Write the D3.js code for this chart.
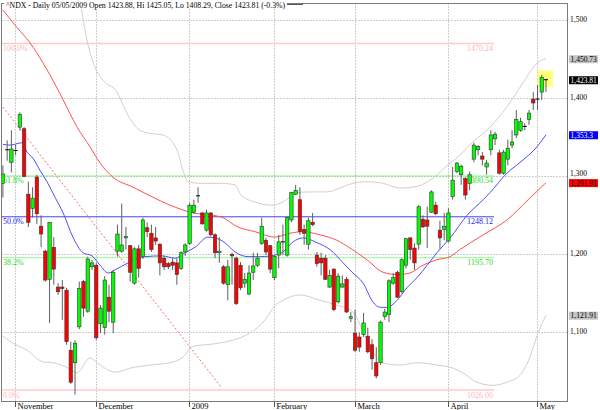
<!DOCTYPE html>
<html><head><meta charset="utf-8">
<script src="https://cdn.jsdelivr.net/npm/d3@7"></script>
<style>html,body{margin:0;padding:0;background:#fff}svg{display:block}text{font-family:"Liberation Serif","DejaVu Serif",serif}</style>
</head><body><svg id="c" width="600" height="410"></svg>
<script>
// ---------- DATA ----------
const title = "^NDX - Daily 05/05/2009 Open 1423.88, Hi 1425.05, Lo 1408.29, Close 1423.81 (-0.3%)";
const dates = [
 "2008-10-29","2008-10-30","2008-10-31",
 "2008-11-03","2008-11-04","2008-11-05","2008-11-06","2008-11-07","2008-11-10","2008-11-11","2008-11-12","2008-11-13","2008-11-14","2008-11-17","2008-11-18","2008-11-19","2008-11-20","2008-11-21","2008-11-24","2008-11-25","2008-11-26","2008-11-28",
 "2008-12-01","2008-12-02","2008-12-03","2008-12-04","2008-12-05","2008-12-08","2008-12-09","2008-12-10","2008-12-11","2008-12-12","2008-12-15","2008-12-16","2008-12-17","2008-12-18","2008-12-19","2008-12-22","2008-12-23","2008-12-24","2008-12-26","2008-12-29","2008-12-30","2008-12-31",
 "2009-01-02","2009-01-05","2009-01-06","2009-01-07","2009-01-08","2009-01-09","2009-01-12","2009-01-13","2009-01-14","2009-01-15","2009-01-16","2009-01-20","2009-01-21","2009-01-22","2009-01-23","2009-01-26","2009-01-27","2009-01-28","2009-01-29","2009-01-30",
 "2009-02-02","2009-02-03","2009-02-04","2009-02-05","2009-02-06","2009-02-09","2009-02-10","2009-02-11","2009-02-12","2009-02-13","2009-02-17","2009-02-18","2009-02-19","2009-02-20","2009-02-23","2009-02-24","2009-02-25","2009-02-26","2009-02-27",
 "2009-03-02","2009-03-03","2009-03-04","2009-03-05","2009-03-06","2009-03-09","2009-03-10","2009-03-11","2009-03-12","2009-03-13","2009-03-16","2009-03-17","2009-03-18","2009-03-19","2009-03-20","2009-03-23","2009-03-24","2009-03-25","2009-03-26","2009-03-27","2009-03-30","2009-03-31",
 "2009-04-01","2009-04-02","2009-04-03","2009-04-06","2009-04-07","2009-04-08","2009-04-09","2009-04-13","2009-04-14","2009-04-15","2009-04-16","2009-04-17","2009-04-20","2009-04-21","2009-04-22","2009-04-23","2009-04-24","2009-04-27","2009-04-28","2009-04-29","2009-04-30",
 "2009-05-01","2009-05-04","2009-05-05"];
const monthLabels = ["November","December","2009","February","March","April","May"];

const open = [1291,1333,1318,1334,1363,1361,1277,1259,1299,1236,1204,1168,1209,1158,1158,1154,1077,1061,1107,1165,1127,1184,
 1186,1111,1106,1145,1113,1204,1204,1221,1211,1163,1207,1197,1234,1227,1221,1213,1195,1188,1190,1189,1182,1203,
 1214,1254,1274,1253,1231,1253,1225,1202,1184,1161,1200,1195,1186,1163,1149,1177,1186,1214,1218,1211,
 1170,1199,1215,1199,1244,1277,1270,1232,1213,1241,1199,1195,1195,1158,1181,1139,1158,1168,1118,
 1099,1094,1097,1095,1084,1061,1061,1120,1123,1163,1177,1152,1186,1221,1208,1213,1245,1244,1254,1263,1231,1232,
 1217,1274,1306,1302,1297,1291,1322,1334,1326,1312,1334,1348,1330,1304,1322,1340,1353,1359,1363,1373,1399,
 1398,1408,1423.88];
const high = [1314,1346,1359,1340,1382,1363,1293,1286,1302,1250,1206,1241,1222,1163,1167,1157,1088,1090,1165,1167,1197,1193,
 1189,1135,1172,1161,1180,1238,1265,1235,1212,1209,1212,1247,1241,1238,1235,1214,1198,1190,1195,1195,1204,1214,
 1266,1270,1286,1254,1257,1254,1227,1222,1186,1193,1202,1197,1190,1176,1186,1202,1202,1247,1221,1212,
 1199,1225,1238,1248,1280,1289,1286,1238,1247,1253,1203,1202,1199,1180,1182,1176,1173,1171,1126,
 1129,1100,1125,1106,1091,1081,1115,1130,1168,1176,1179,1195,1221,1222,1214,1263,1250,1261,1282,1267,1243,1253,
 1259,1312,1318,1315,1299,1306,1343,1340,1331,1321,1359,1357,1334,1334,1347,1359,1385,1375,1368,1385,1408,
 1417,1430,1425.05];
const low = [1273,1320,1305,1327,1359,1299,1235,1247,1239,1209,1165,1112,1161,1148,1116,1084,1034,1020,1104,1120,1125,1180,
 1090,1099,1097,1113,1099,1197,1202,1206,1165,1161,1170,1194,1222,1203,1212,1173,1180,1181,1180,1161,1180,1198,
 1212,1252,1266,1238,1229,1223,1195,1189,1161,1141,1161,1135,1154,1157,1148,1167,1184,1212,1199,1176,
 1167,1182,1199,1197,1241,1276,1225,1212,1206,1236,1184,1173,1167,1157,1127,1137,1157,1125,1113,
 1075,1075,1094,1073,1052,1041,1058,1116,1113,1161,1144,1150,1182,1193,1180,1206,1234,1208,1253,1250,1207,1218,
 1215,1270,1304,1289,1270,1282,1318,1327,1314,1302,1327,1340,1302,1302,1314,1336,1349,1357,1359,1366,1385,
 1385,1398,1408.29];
const close = [1303,1334,1335,1333,1379,1300,1241,1272,1252,1226,1167,1241,1181,1152,1156,1088,1036,1086,1156,1131,1194,1189,
 1093,1131,1167,1127,1177,1226,1212,1223,1177,1207,1182,1244,1229,1206,1217,1189,1184,1184,1186,1174,1202,1212,
 1263,1263,1275,1239,1253,1225,1202,1204,1163,1184,1198,1137,1157,1168,1176,1185,1195,1236,1203,1181,
 1197,1216,1216,1247,1279,1282,1229,1227,1243,1238,1188,1189,1168,1173,1129,1172,1162,1126,1120,
 1077,1081,1112,1075,1066,1044,1113,1126,1166,1170,1145,1193,1220,1206,1189,1261,1235,1236,1280,1252,1221,1236,
 1253,1295,1317,1313,1276,1302,1340,1338,1322,1317,1353,1354,1304,1331,1336,1344,1373,1370,1364,1381,1394,
 1399,1427,1423.81];

// indicator lines: [trading-day position, price]
const upperBand = [[17.2,1564],[18.2,1526],[19.8,1475],[21.7,1440],[23.6,1423],[26.9,1408],[29.2,1381],[32.3,1359],[34.7,1355],[37.7,1353],[41.0,1334],[42.6,1305],[43.6,1293],[46.7,1291],[51.4,1291],[54.7,1289],[56.1,1276],[59.4,1267],[63.2,1263],[66.0,1267],[69.3,1279],[72.4,1280],[76.4,1280],[79.4,1285],[82.5,1291],[85.8,1293],[89.6,1291],[93.6,1285],[97.6,1287],[101.4,1298],[105.4,1317],[107.7,1327],[110.8,1344],[114.8,1363],[118.8,1389],[122.6,1420],[125.9,1445],[128,1450.73]];
const lowerBand = [[0,1095],[2.4,1086],[5.7,1077],[9.5,1062],[11.8,1061],[15.1,1055],[17.5,1048],[20.5,1067],[22.9,1058],[26.4,1049],[30.7,1055],[34.7,1058],[39.4,1061],[42.4,1068],[44.8,1082],[49.5,1085],[54.2,1090],[58.2,1099],[61.8,1116],[64.1,1134],[66.0,1141],[70.0,1148],[74.7,1141],[78.7,1135],[82.5,1126],[85.3,1096],[87.7,1071],[89.4,1061],[93.6,1058],[97.6,1061],[102.3,1058],[106.1,1054],[108.4,1048],[111.7,1036],[115.5,1032],[118.8,1036],[121.9,1045],[124.2,1068],[126.1,1099],[128,1121.91]];
const ma20 = [[0,1341],[1.7,1340],[4.5,1343],[5.7,1331],[7.1,1323],[8.7,1308],[10.4,1293],[12.3,1273],[14.2,1253],[16.5,1222],[18.9,1202],[21.0,1198],[22.9,1186],[24.8,1176],[26.4,1180],[29.5,1189],[33.5,1197],[37.5,1198],[40.6,1195],[42.9,1202],[45.3,1209],[48.3,1222],[50.0,1221],[52.3,1215],[54.7,1203],[57.8,1197],[60.8,1197],[64.1,1199],[66.0,1203],[68.4,1216],[70.7,1221],[74.0,1215],[77.1,1206],[80.2,1189],[82.3,1177],[84.9,1163],[87.2,1139],[88.9,1132],[90.5,1132],[92.9,1141],[95.2,1157],[97.6,1170],[100.0,1186],[102.3,1202],[105.4,1221],[109.4,1250],[113.2,1270],[114.8,1279],[118.8,1304],[122.6,1321],[125.9,1338],[128,1353.3]];
const ma50 = [[0,1513],[3.3,1491],[6.4,1471],[9.5,1445],[11.8,1423],[14.2,1398],[17.5,1363],[20.5,1338],[22.9,1317],[25.9,1299],[30.7,1286],[35.4,1273],[39.4,1263],[44.1,1254],[51.4,1248],[55.4,1235],[59.4,1229],[64.1,1222],[67.7,1227],[70.7,1229],[74.7,1225],[78.7,1218],[81.8,1208],[85.8,1193],[89.6,1177],[92.9,1174],[95.9,1176],[99.0,1186],[102.3,1193],[105.4,1197],[107.7,1206],[113.2,1225],[118.8,1244],[123.8,1270],[128,1291.91]];
const trendLine = [[0,1388.8],[51.6,1028.6]];

const fibPct = ["100.0%","61.8%","50.0%","38.2%","0.0%"];
const fibValues = [1470.24,1300.54,1248.12,1195.70,1026.00];
const priceTicks = [1100,1200,1300,1400,1500];
const tagValues = [1450.73,1423.81,1353.3,1291.91,1121.91];

// ---------- STYLE / LAYOUT ----------
const fibStyle = [
 {line:"#ffcccc",text:"#ffb4b4",dash:null,w:1.5},
 {line:"#33ee33",text:"#22dd22",dash:"1,1",w:1},
 {line:"#4444ff",text:"#2222ee",dash:null,w:1},
 {line:"#33ee33",text:"#22dd22",dash:"1,1",w:1},
 {line:"#ffcccc",text:"#ffb4b4",dash:null,w:1.5}];
const tagStyle = [
 {bg:"#c4c4c4",fg:"#000"},{bg:"#000",fg:"#fff"},{bg:"#0000ff",fg:"#fff"},{bg:"#ff0000",fg:"#000"},{bg:"#c4c4c4",fg:"#000"}];

const L=1.5, R=567.5, T=3.5, B=401.5;
const svg = d3.select("#c");
svg.append("rect").attr("width",600).attr("height",410).attr("fill","#fff");

const x = d3.scaleLinear().domain([0, dates.length-1]).range([2.9, 546]);
const y = d3.scaleLinear().domain([1000,1500]).range([410.3, 20.3]);

svg.append("clipPath").attr("id","clip").append("rect").attr("x",L).attr("y",T).attr("width",R-L).attr("height",B-T);
const g = svg.append("g").attr("clip-path","url(#clip)");

// month ticks
const monthIdx = [];
dates.forEach((d,i)=>{ if(i>0 && d.slice(5,7)!==dates[i-1].slice(5,7)) monthIdx.push(i); });

// grid
priceTicks.forEach(v=>{
  const yy = Math.floor(y(v))+0.5;
  g.append("line").attr("x1",L).attr("x2",R).attr("y1",yy).attr("y2",yy)
   .attr("stroke","#9a9a9a").attr("stroke-dasharray","1,2");
});
monthIdx.forEach(i=>{
  const xx = Math.floor(x(i))+0.5;
  g.append("line").attr("x1",xx).attr("x2",xx).attr("y1",T).attr("y2",B)
   .attr("stroke","#9a9a9a").attr("stroke-dasharray","1,2");
});

// highlight of last session
const n = dates.length;
g.append("rect").attr("x",x(n-3)).attr("width",x(n-1)-x(n-3)+7)
 .attr("y",y(1436)).attr("height",y(1414.5)-y(1436)).attr("fill","#ffff80");

// fib lines
fibValues.forEach((v,k)=>{
  const s=fibStyle[k], yy=y(v);
  const ln=g.append("line").attr("x1",L).attr("x2",494).attr("y1",yy).attr("y2",yy)
   .attr("stroke",s.line).attr("stroke-width",s.w);
  if(s.dash) ln.attr("stroke-dasharray",s.dash);
});

// indicator curves
const lineGen = d3.line().x(d=>x(d[0])).y(d=>y(d[1])).curve(d3.curveMonotoneX);
const curves = [[upperBand,"#d6cccc"],[lowerBand,"#d6cccc"],[ma50,"#ff5050"],[ma20,"#4d4dff"]];
curves.forEach(([data,col])=>{
  g.append("path").attr("d",lineGen(data)).attr("fill","none").attr("stroke",col).attr("stroke-width",1);
});
g.append("path").attr("d",d3.line().x(d=>x(d[0])).y(d=>y(d[1]))(trendLine))
 .attr("fill","none").attr("stroke","#ff6a6a").attr("stroke-width",1).attr("stroke-dasharray","2,2");

// candles
dates.forEach((d,i)=>{
  const cx = x(i), o=open[i], c=close[i];
  g.append("line").attr("x1",cx).attr("x2",cx).attr("y1",y(high[i])).attr("y2",y(low[i]))
   .attr("stroke","#5e5e5e").attr("stroke-width",1);
  const top=y(Math.max(o,c)), bot=y(Math.min(o,c));
  if(bot-top<1.2){
    g.append("line").attr("x1",cx-2).attr("x2",cx+2).attr("y1",y(c)).attr("y2",y(c))
     .attr("stroke","#000").attr("stroke-width",1);
  } else {
    g.append("rect").attr("x",cx-1.7).attr("width",3.4).attr("y",top).attr("height",bot-top)
     .attr("fill", c>o ? "#00ff00" : "#ff0000").attr("stroke","#333").attr("stroke-width",0.6);
  }
});

// fib labels
const fmt2 = d3.format(".2f");
fibValues.forEach((v,k)=>{
  const s=fibStyle[k], yy=y(v);
  g.append("text").attr("x",3).attr("y",yy+7.5).attr("font-size",8).attr("fill",s.text).text(fibPct[k]);
  g.append("text").attr("x",493).attr("y",yy+7.5).attr("font-size",8).attr("fill",s.text)
   .attr("text-anchor","end").text(fmt2(v));
});

// frame
svg.append("rect").attr("x",L).attr("y",T).attr("width",R-L).attr("height",B-T)
 .attr("fill","none").attr("stroke","#7a7a7a").attr("stroke-width",1);

// title
svg.append("rect").attr("x",4).attr("y",0).attr("width",283).attr("height",9).attr("fill","#fff");
svg.append("line").attr("x1",287).attr("x2",303).attr("y1",4.5).attr("y2",4.5).attr("stroke","#555");
svg.append("text").attr("x",6).attr("y",8).attr("font-size",8).attr("fill","#000")
 .attr("textLength",279).attr("lengthAdjust","spacingAndGlyphs").text(title);

// right price axis (nudge a label up when a value tag sits right below it)
const fmtTick = d3.format(",");
priceTicks.forEach(v=>{
  const crowded = tagValues.some(t=> y(t)-y(v) > 0 && y(t)-y(v) < 9);
  svg.append("text").attr("x",570).attr("y",y(v)-(crowded?2.5:0.5)).attr("dy","0.35em")
   .attr("font-size",7.5).attr("fill","#000").text(fmtTick(v));
});

// bottom month axis
monthIdx.forEach((i,k)=>{
  const xx = Math.floor(x(i))+0.5;
  svg.append("line").attr("x1",xx).attr("x2",xx).attr("y1",B).attr("y2",407).attr("stroke","#555");
  svg.append("text").attr("x",xx+2).attr("y",409).attr("font-size",8.5).attr("fill","#000").text(monthLabels[k]);
});

// value tags
const fmtTag = d3.format(",.2~f");
tagValues.forEach((v,k)=>{
  const s=tagStyle[k], yy=y(v);
  svg.append("rect").attr("x",569).attr("y",yy-3.5).attr("width",29).attr("height",8).attr("fill",s.bg);
  svg.append("text").attr("x",570.5).attr("y",yy+0.5).attr("dy","0.35em").attr("font-size",7.5).attr("fill",s.fg).text(fmtTag(v));
});
</script></body></html>
